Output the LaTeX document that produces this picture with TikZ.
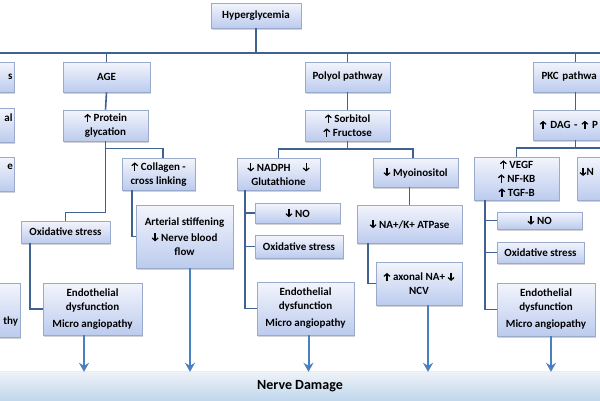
\documentclass[tikz,border=0pt]{standalone}
\usepackage{fontspec}
\setmainfont{Carlito}
\usetikzlibrary{shadows,arrows.meta,calc}
\newcommand\UA{\tikz[x=1pt,y=1pt,baseline=0pt]\draw[black,line width=1.3pt,-{Straight Barb[length=2.6pt,width=6pt,line width=1.2pt]}] (0,-0.3)--(0,8);}
\newcommand\DA{\tikz[x=1pt,y=1pt,baseline=0pt]\draw[black,line width=1.3pt,-{Straight Barb[length=2.6pt,width=6pt,line width=1.2pt]}] (0,8.3)--(0,0);}
\definecolor{boxtop}{HTML}{F3F5FC}
\definecolor{boxbot}{HTML}{BCCBEE}
\definecolor{boxline}{HTML}{9AAACC}
\definecolor{linkc}{HTML}{3F6391}
\definecolor{arrc}{HTML}{4A7FC0}
\definecolor{bartop}{HTML}{EEF2F7}
\definecolor{barbot}{HTML}{C0D7EC}
\tikzset{
  box/.style={draw=boxline, line width=0.6pt, top color=boxtop, bottom color=boxbot,
    drop shadow={shadow xshift=1.2pt, shadow yshift=-1.5pt, opacity=0.35},
    align=center, inner sep=1pt,
    font=\bfseries\fontsize{11}{14}\selectfont},
  link/.style={draw=linkc, line width=1.6pt},
  down/.style={draw=arrc, line width=2pt, -{Stealth[length=9pt,width=10pt,inset=3pt]}}
}
\begin{document}
\begin{tikzpicture}[x=1pt,y=-1pt]
\useasboundingbox (0,0) rectangle (600,400);
\clip (0,0) rectangle (600,400);
\fill[white] (0,0) rectangle (600,400);
% bar
\node[minimum width=640pt, minimum height=28pt, inner sep=0pt, top color=bartop, bottom color=barbot,
  font=\bfseries\fontsize{14}{16}\selectfont] (nerve) at (300,386) {Nerve Damage};
\draw[white!85!gray, line width=0.8pt] (nerve.north west) -- (nerve.north east);
% top
\node[box, minimum width=90pt, minimum height=25pt] (hyper) at (256,15.5) {Hyperglycemia};
\coordinate (busL) at (-80,53);
\coordinate (busR) at (680,53);
% left partial column
\node[box, minimum width=89pt, minimum height=30pt, text width=86pt, align=right] (L1) at (-30.5,77) {s};
\node[box, minimum width=89pt, minimum height=34pt, text width=86pt, align=right] (L2) at (-30.5,125) {al\\\mbox{}};
\node[box, minimum width=89pt, minimum height=34pt, text width=87pt, align=right] (L3) at (-30.5,174) {e\\\mbox{}};
\node[box, minimum width=98pt, minimum height=54pt, text width=94pt, align=right] (L4) at (-29,310) {\mbox{}\\\mbox{}\\[3pt]thy\hspace*{4pt}};
% AGE column
\node[box, minimum width=87pt, minimum height=30pt] (age) at (106.5,77) {AGE};
\node[box, minimum width=85pt, minimum height=31pt] (prot) at (105.5,125.5) {\UA\ Protein\\glycation};
\node[box, minimum width=73pt, minimum height=32pt] (coll) at (158.5,174) {\UA\ Collagen -\\cross linking};
\node[box, minimum width=89pt, minimum height=22pt] (oxA) at (65.5,232) {Oxidative stress};
\node[box, minimum width=97pt, minimum height=63pt] (art) at (184.5,236.5) {Arterial stiffening\\[2pt]\DA\ Nerve blood\\flow};
\node[box, minimum width=99pt, minimum height=52pt] (endA) at (92.5,309) {Endothelial\\dysfunction\\[3pt]Micro angiopathy};
% Polyol column
\node[box, minimum width=85pt, minimum height=30pt] (poly) at (347.5,77) {Polyol pathway};
\node[box, minimum width=85pt, minimum height=31pt] (sorb) at (347.5,125.5) {\UA\ Sorbitol\\\UA\ Fructose};
\node[box, minimum width=83pt, minimum height=32pt] (nadph) at (278.5,174) {\DA\ NADPH\hspace{12pt}\DA\\Glutathione};
\node[box, minimum width=85pt, minimum height=20pt] (noP) at (297.5,213) {\DA\ NO};
\node[box, minimum width=88pt, minimum height=23pt] (oxP) at (299,246.5) {Oxidative stress};
\node[box, minimum width=97pt, minimum height=53pt] (endP) at (305.5,308.5) {Endothelial\\dysfunction\\[3pt]Micro angiopathy};
\node[box, minimum width=85pt, minimum height=29pt] (myo) at (415.5,172.5) {\DA\ Myoinositol};
\node[box, minimum width=105pt, minimum height=38pt] (nak) at (409.5,224) {\DA\ NA+/K+ ATPase};
\node[box, minimum width=86pt, minimum height=43pt] (axon) at (419,283.5) {\UA\ axonal NA+ \DA\\NCV};
% PKC column
\node[box, minimum width=85pt, minimum height=30pt, text width=80pt, align=left] (pkc) at (575.5,77) {\hspace*{6pt}PKC pathwa};
\node[box, minimum width=85pt, minimum height=30pt, text width=80pt, align=left] (dag) at (575.5,125) {\hspace*{4pt}\UA\ DAG - \UA\ P};
\node[box, minimum width=85pt, minimum height=43pt] (vegf) at (516.5,178.5) {\UA\ VEGF\\\UA\ NF-KB\\\UA\ TGF-B};
\node[box, minimum width=83pt, minimum height=43pt, text width=78pt, align=left] (noN) at (618.5,178.5) {\DA N\\\mbox{}};
\node[box, minimum width=85pt, minimum height=17pt] (noK) at (539.5,220.5) {\DA\ NO};
\node[box, minimum width=87pt, minimum height=21pt] (oxK) at (540.5,252.5) {Oxidative stress};
\node[box, minimum width=98pt, minimum height=53pt] (endK) at (546,309.5) {Endothelial\\dysfunction\\[3pt]Micro angiopathy};
% connectors
\draw[link] (busL) -- (busR);
\draw[link] (hyper.south) -- (hyper.south |- busL);
\foreach \n in {L1,age,poly,pkc} \draw[link] (\n.north) -- (\n.north |- busL);
\draw[link] (age.south) -- (prot.north);
\draw[link] (prot.south) -- ++(0,71) -| (oxA.north);
\draw[link] (prot.south) -- ++(0,7) -| ([xshift=4.5pt]coll.north);
\draw[link] ([xshift=10pt]coll.south west) |- (art.west);
\draw[link] ([xshift=9pt]oxA.south west) |- (endA.west);
\draw[link] (poly.south) -- (sorb.north);
\coordinate (pb) at (347.5,149);
\draw[link] (sorb.south) -- (pb);
\draw[link] (nadph.north) |- (pb) -| ([xshift=-2.5pt]myo.north);
\draw[link] ([xshift=8pt]nadph.south west) |- (noP.west);
\draw[link] ([xshift=8pt]nadph.south west) |- (oxP.west);
\draw[link] ([xshift=8pt]nadph.south west) |- (endP.west);
\draw[link] (nak.north) -- (nak.north |- myo.south);
\draw[link] ([xshift=11pt]nak.south west) |- (axon.west);
\draw[link] (pkc.south) -- (dag.north);
\coordinate (kb) at (575.5,148);
\draw[link] (dag.south) -- (kb);
\draw[link] (vegf.north) |- (kb) -| (noN.north);
\draw[link] ([xshift=11pt]vegf.south west) |- (noK.west);
\draw[link] ([xshift=11pt]vegf.south west) |- (oxK.west);
\draw[link] ([xshift=11pt]vegf.south west) |- (endK.west);
% arrows to nerve damage
\draw[down] ([xshift=-8.5pt]endA.south) -- ([xshift=-8.5pt]endA.south |- nerve.north);
\draw[down] ([xshift=5.5pt]art.south) -- ([xshift=5.5pt]art.south |- nerve.north);
\draw[down] ([xshift=3pt]endP.south) -- ([xshift=3pt]endP.south |- nerve.north);
\draw[down] ([xshift=9pt]axon.south) -- ([xshift=9pt]axon.south |- nerve.north);
\draw[down] ([xshift=5pt]endK.south) -- ([xshift=5pt]endK.south |- nerve.north);
\end{tikzpicture}
\end{document}
